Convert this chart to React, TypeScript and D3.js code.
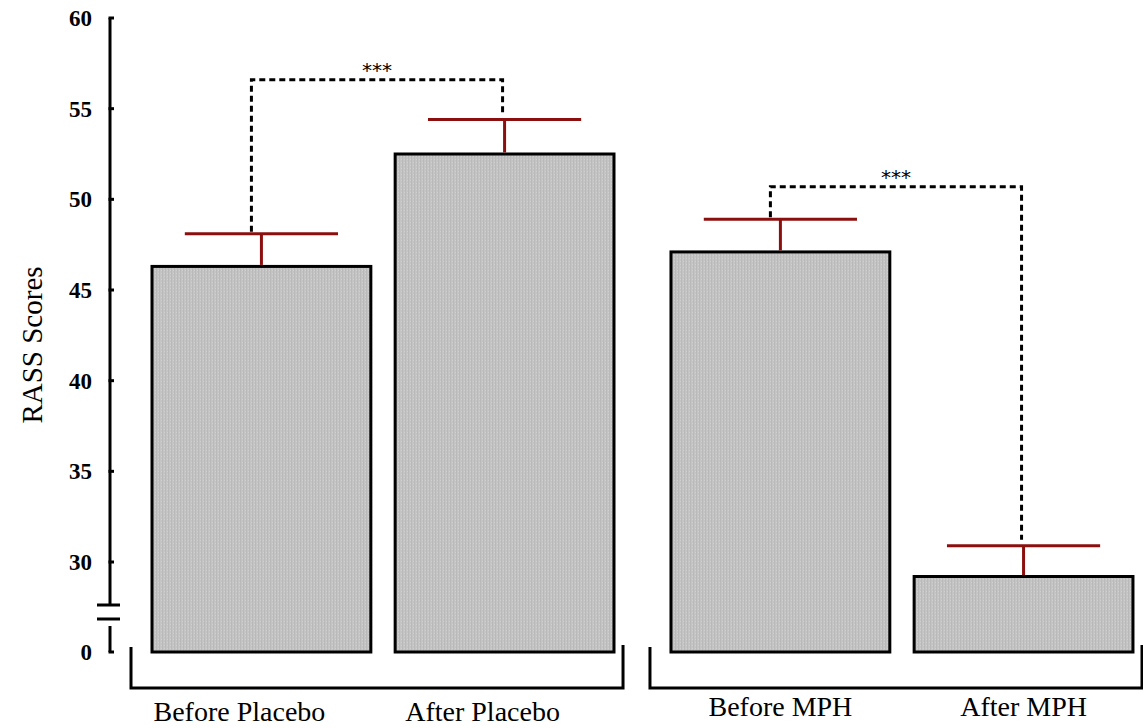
import { useEffect, useRef } from "react";
import * as d3 from "d3";

// values
const groups = ["Placebo", "MPH"];
const categories = ["Before Placebo", "After Placebo", "Before MPH", "After MPH"];
const categoryGroup = ["Placebo", "Placebo", "MPH", "MPH"];
const means = [46.3, 52.5, 47.1, 29.2];
const errors = [1.8, 1.9, 1.8, 1.7];
const yTicks = [30, 35, 40, 45, 50, 55, 60];
// bracket level is in score units
const comparisons = [
  { a: 0, b: 1, level: 56.6, label: "***" },
  { a: 2, b: 3, level: 50.7, label: "***" },
];

export default function App() {
  const ref = useRef<SVGSVGElement>(null);

  useEffect(() => {
    if (!ref.current) return;
    const width = 1143,
      height = 728;
    const svg = d3.select(ref.current);
    svg.selectAll("*").remove();
    svg.attr("width", width).attr("height", height);

    const serif = "'Liberation Serif', 'Times New Roman', serif";
    const errColor = "#8b0f0f";

    // y: upper part linear, axis broken below 30
    const y = d3.scaleLinear().domain([30, 60]).range([562, 18]);
    const base = 652; // the "0" position
    const axisX = 110;

    // x: groups, then bars inside group
    const gx = d3.scaleBand().domain(groups).range([131, 1143]).paddingInner(0.05);
    const bx = d3.scaleBand().domain(["0", "1"]).range([21, 483]).paddingInner(0.1);
    const barX = (i: number) => {
      const g = categoryGroup[i];
      const k = String(categories.filter((_, j) => j < i && categoryGroup[j] === g).length);
      return (gx(g) as number) + (bx(k) as number);
    };
    const bw = bx.bandwidth();
    const cx = (i: number) => barX(i) + bw / 2;

    // texture for bars
    const defs = svg.append("defs");
    const pat = defs
      .append("pattern")
      .attr("id", "barTex")
      .attr("patternUnits", "userSpaceOnUse")
      .attr("width", 3)
      .attr("height", 3);
    pat.append("rect").attr("width", 3).attr("height", 3).attr("fill", "#c4c4c4");
    pat.append("rect").attr("width", 1).attr("height", 3).attr("fill", "#b9b9b9");
    pat.append("rect").attr("x", 2).attr("width", 1).attr("height", 1).attr("fill", "#cfcfcf");

    // y axis (with break)
    svg
      .append("line")
      .attr("x1", axisX).attr("x2", axisX)
      .attr("y1", y(60)).attr("y2", 605)
      .attr("stroke", "#000").attr("stroke-width", 3);
    svg
      .append("line")
      .attr("x1", axisX).attr("x2", axisX)
      .attr("y1", 626).attr("y2", base)
      .attr("stroke", "#000").attr("stroke-width", 3);
    [605, 619].forEach((yy) =>
      svg
        .append("line")
        .attr("x1", 97).attr("x2", 120)
        .attr("y1", yy).attr("y2", yy)
        .attr("stroke", "#000").attr("stroke-width", 3)
    );

    const tickG = svg.append("g");
    tickG
      .selectAll("line")
      .data(yTicks)
      .enter()
      .append("line")
      .attr("x1", axisX - 1.5).attr("x2", axisX + 4)
      .attr("y1", (d) => y(d)).attr("y2", (d) => y(d))
      .attr("stroke", "#000").attr("stroke-width", 3);
    tickG
      .append("line")
      .attr("x1", axisX - 1.5).attr("x2", axisX + 4)
      .attr("y1", base).attr("y2", base)
      .attr("stroke", "#000").attr("stroke-width", 3);
    tickG
      .selectAll("text")
      .data(yTicks)
      .enter()
      .append("text")
      .attr("x", 92)
      .attr("y", (d) => y(d))
      .attr("dy", "0.35em")
      .attr("text-anchor", "end")
      .style("font-family", serif)
      .style("font-weight", "bold")
      .style("font-size", "23px")
      .text((d) => d);
    tickG
      .append("text")
      .attr("x", 92)
      .attr("y", base)
      .attr("dy", "0.35em")
      .attr("text-anchor", "end")
      .style("font-family", serif)
      .style("font-weight", "bold")
      .style("font-size", "23px")
      .text("0");

    // axis title
    svg
      .append("text")
      .attr("transform", `translate(42,345) rotate(-90)`)
      .attr("text-anchor", "middle")
      .style("font-family", serif)
      .style("font-size", "29px")
      .text("RASS Scores");

    // bars
    svg
      .append("g")
      .selectAll("rect")
      .data(means)
      .enter()
      .append("rect")
      .attr("x", (_, i) => barX(i))
      .attr("y", (d) => y(d))
      .attr("width", bw)
      .attr("height", (d) => base - y(d))
      .attr("fill", "url(#barTex)")
      .attr("stroke", "#000")
      .attr("stroke-width", 3);

    // error bars (upper only)
    const capW = bw * 0.7;
    const eb = svg.append("g").attr("stroke", errColor).attr("stroke-width", 3);
    means.forEach((m, i) => {
      eb.append("line")
        .attr("x1", cx(i)).attr("x2", cx(i))
        .attr("y1", y(m) - 1.5).attr("y2", y(m + errors[i]));
      eb.append("line")
        .attr("x1", cx(i) - capW / 2).attr("x2", cx(i) + capW / 2)
        .attr("y1", y(m + errors[i])).attr("y2", y(m + errors[i]));
    });

    // significance brackets
    const sig = svg.append("g");
    comparisons.forEach((c) => {
      const topA = y(means[c.a] + errors[c.a]);
      const topB = y(means[c.b] + errors[c.b]);
      const hy = y(c.level);
      const xa = cx(c.a) - 10;
      const xb = cx(c.b) - 2;
      sig
        .append("path")
        .attr("d", `M${xa},${topA - 2}V${hy}H${xb}V${topB - 6}`)
        .attr("fill", "none")
        .attr("stroke", "#000")
        .attr("stroke-width", 3)
        .attr("stroke-dasharray", "6,4");
      sig
        .append("text")
        .attr("x", (xa + xb) / 2)
        .attr("y", hy - 3)
        .attr("text-anchor", "middle")
        .style("font-family", "'DejaVu Sans', sans-serif")
        .style("font-size", "20px")
        .text(c.label);
    });

    // group brackets under the bars
    const gb = svg.append("g");
    groups.forEach((g) => {
      const x0 = gx(g) as number;
      const x1 = x0 + gx.bandwidth() - 1;
      gb.append("path")
        .attr("d", `M${x0},${base - 5}V688H${x1}V${base - 7}`)
        .attr("fill", "none")
        .attr("stroke", "#000")
        .attr("stroke-width", 3);
    });

    // category labels
    svg
      .append("g")
      .selectAll("text")
      .data(categories)
      .enter()
      .append("text")
      .attr("x", (_, i) => cx(i) - (categoryGroup[i] === "Placebo" ? 22 : 0))
      .attr("y", (_, i) => (categoryGroup[i] === "Placebo" ? 721 : 716))
      .attr("text-anchor", "middle")
      .style("font-family", serif)
      .style("font-size", "28px")
      .text((d) => d);
  }, []);

  return (
    <svg
      ref={ref}
      style={{ position: "absolute", left: 0, top: 0, display: "block", background: "#fff" }}
    />
  );
}
